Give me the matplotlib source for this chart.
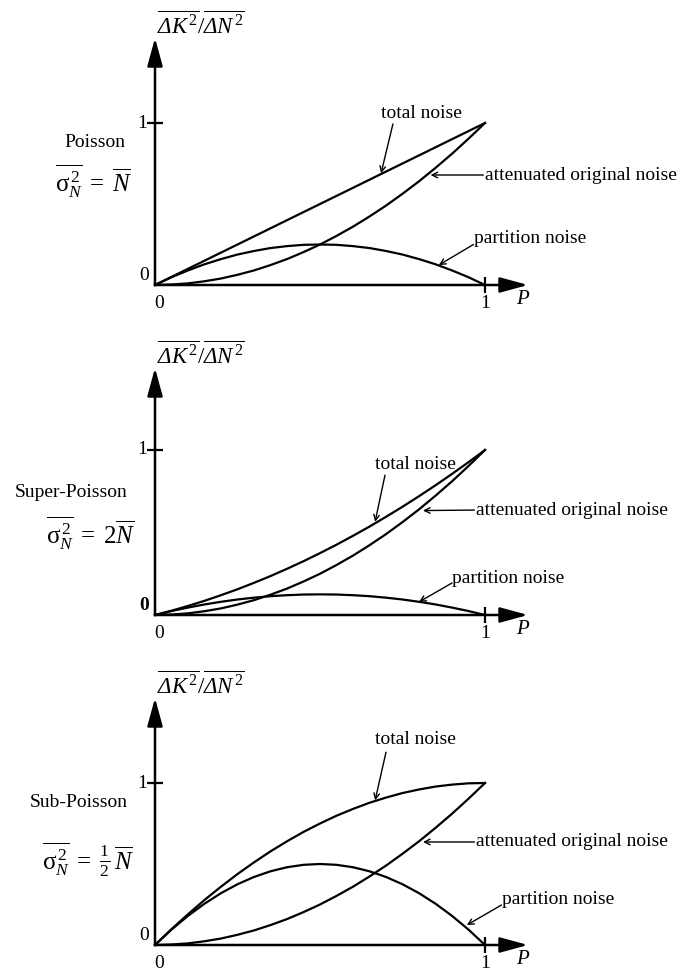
import matplotlib
matplotlib.use("Agg")
import matplotlib.pyplot as plt

plt.rcParams['font.family'] = ['Liberation Serif', 'DejaVu Serif']
plt.rcParams['mathtext.fontset'] = 'custom'
plt.rcParams['mathtext.rm'] = 'Liberation Serif'
plt.rcParams['mathtext.it'] = 'Liberation Serif:italic'
plt.rcParams['mathtext.bf'] = 'Liberation Serif:bold'
plt.rcParams['mathtext.sf'] = 'Liberation Serif:italic'

# transmission probability P
p = [0.0, 0.05, 0.10, 0.15, 0.20, 0.25, 0.30, 0.35, 0.40, 0.45, 0.50,
     0.55, 0.60, 0.65, 0.70, 0.75, 0.80, 0.85, 0.90, 0.95, 1.0]

# Poisson
poi_total = [0.0, 0.05, 0.10, 0.15, 0.20, 0.25, 0.30, 0.35, 0.40, 0.45, 0.50,
             0.55, 0.60, 0.65, 0.70, 0.75, 0.80, 0.85, 0.90, 0.95, 1.0]
poi_atten = [0.0, 0.003, 0.01, 0.023, 0.04, 0.063, 0.09, 0.123, 0.16, 0.203, 0.25,
             0.303, 0.36, 0.423, 0.49, 0.563, 0.64, 0.723, 0.81, 0.903, 1.0]
poi_part = [0.0, 0.048, 0.09, 0.128, 0.16, 0.188, 0.21, 0.228, 0.24, 0.248, 0.25,
            0.248, 0.24, 0.228, 0.21, 0.188, 0.16, 0.128, 0.09, 0.048, 0.0]

# Super-Poisson
sup_total = [0.0, 0.026, 0.055, 0.086, 0.12, 0.156, 0.195, 0.236, 0.28, 0.326, 0.375,
             0.426, 0.48, 0.536, 0.595, 0.656, 0.72, 0.786, 0.855, 0.926, 1.0]
sup_atten = [0.0, 0.003, 0.01, 0.023, 0.04, 0.063, 0.09, 0.123, 0.16, 0.203, 0.25,
             0.303, 0.36, 0.423, 0.49, 0.563, 0.64, 0.723, 0.81, 0.903, 1.0]
sup_part = [0.0, 0.024, 0.045, 0.064, 0.08, 0.094, 0.105, 0.114, 0.12, 0.124, 0.125,
            0.124, 0.12, 0.114, 0.105, 0.094, 0.08, 0.064, 0.045, 0.024, 0.0]

# Sub-Poisson
sub_total = [0.0, 0.098, 0.19, 0.278, 0.36, 0.438, 0.51, 0.578, 0.64, 0.698, 0.75,
             0.798, 0.84, 0.878, 0.91, 0.938, 0.96, 0.978, 0.99, 0.998, 1.0]
sub_atten = [0.0, 0.003, 0.01, 0.023, 0.04, 0.063, 0.09, 0.123, 0.16, 0.203, 0.25,
             0.303, 0.36, 0.423, 0.49, 0.563, 0.64, 0.723, 0.81, 0.903, 1.0]
sub_part = [0.0, 0.095, 0.18, 0.255, 0.32, 0.375, 0.42, 0.455, 0.48, 0.495, 0.5,
            0.495, 0.48, 0.455, 0.42, 0.375, 0.32, 0.255, 0.18, 0.095, 0.0]

names = ['Poisson', 'Super-Poisson', 'Sub-Poisson']
formulas = [r'$\overline{\mathrm{\sigma}_N^{\,2}}\;=\;\overline{N}$',
            r'$\overline{\mathrm{\sigma}_N^{\,2}}\;=\;\mathit{2}\overline{N}$',
            r'$\overline{\mathrm{\sigma}_N^{\,2}}\;=\;\frac{\mathit{1}}{\mathit{2}}\,\overline{N}$']
totals = [poi_total, sup_total, sub_total]
attens = [poi_atten, sup_atten, sub_atten]
parts = [poi_part, sup_part, sub_part]

W, H = 685, 976
fig = plt.figure(figsize=(W / 100, H / 100), dpi=100)

# layout per panel (pixels): origin row, pixels per unit on y
origins = [285, 615, 945]
yunits = [162, 165, 162]
xunit = 330
x0px = 155

# label placement in data units
name_pos = [(-0.182, 0.877), (-0.255, 0.745), (-0.23, 0.877)]
form_pos = [(-0.185, 0.642), (-0.194, 0.497), (-0.203, 0.525)]
tot_txt = [(0.806, 1.06), (0.788, 0.915), (0.788, 1.27)]
tot_tail = [(0.721, 0.994), (0.697, 0.848), (0.70, 1.19)]
tot_head = [(0.685, 0.69), (0.667, 0.565), (0.667, 0.893)]
att_txt = [(1.0, 0.679), (0.973, 0.636), (0.973, 0.636)]
att_head = [(0.835, 0.679), (0.812, 0.633), (0.812, 0.636)]
par_txt = [(0.967, 0.284), (0.90, 0.224), (1.052, 0.278)]
par_tail = [(0.965, 0.25), (0.90, 0.194), (1.05, 0.247)]
par_head = [(0.86, 0.123), (0.80, 0.079), (0.945, 0.123)]

fs = 14
for k in range(3):
    oy = origins[k]
    u = yunits[k]
    top = oy - 290
    bot = min(oy + 31, H)
    ax = fig.add_axes([0, 1 - bot / H, 1, (bot - top) / H])
    ax.set_xlim(-x0px / xunit, (W - x0px) / xunit)
    ax.set_ylim(-(bot - oy) / u, (oy - top) / u)
    ax.patch.set_visible(False)

    for s in ['top', 'right']:
        ax.spines[s].set_visible(False)
    for s in ['left', 'bottom']:
        ax.spines[s].set_position(('data', 0))
        ax.spines[s].set_color('none')
    ax.set_xticks([1])
    ax.set_yticks([1])
    ax.set_xticklabels([])
    ax.set_yticklabels([])
    ax.tick_params(direction='inout', length=11, width=1.6, color='black')

    xtip = (528 - x0px) / xunit
    ytip = 247 / u
    arr = dict(arrowstyle='-|>,head_length=0.95,head_width=0.26', color='black',
               lw=1.8, mutation_scale=18, shrinkA=0, shrinkB=0)
    ax.annotate('', xy=(xtip, 0), xytext=(0, 0), arrowprops=arr)
    ax.annotate('', xy=(0, ytip), xytext=(0, 0), arrowprops=arr)

    ax.plot(p, totals[k], color='black', lw=1.6)
    ax.plot(p, attens[k], color='black', lw=1.6)
    ax.plot(p, parts[k], color='black', lw=1.6)

    ax.text(0.005, 260 / u, r'$\overline{\mathsf{\Delta K}^{\,2}}/\overline{\mathsf{\Delta N}^{\,2}}$',
            fontsize=16.5, ha='left', va='center')
    ax.text(name_pos[k][0], name_pos[k][1], names[k], fontsize=fs, ha='center', va='center')
    ax.text(form_pos[k][0], form_pos[k][1], formulas[k], fontsize=18, ha='center', va='center')

    ax.text(-0.033, 0.056, '0', fontsize=fs, ha='center', va='center',
            fontweight='bold' if k == 1 else 'normal')
    ax.text(-0.039, 1.0, '1', fontsize=fs, ha='center', va='center')
    ax.text(0.012, -18 / u, '0', fontsize=fs, ha='center', va='center')
    ax.text(1.0, -18 / u, '1', fontsize=fs, ha='center', va='center')
    ax.text(1.115, -15 / u, 'P', fontsize=15, style='italic', ha='center', va='center')

    thin = dict(arrowstyle='->', color='black', lw=1.0, shrinkA=0, shrinkB=0)
    ax.text(tot_txt[k][0], tot_txt[k][1], 'total noise', fontsize=fs, ha='center', va='center')
    ax.annotate('', xy=tot_head[k], xytext=tot_tail[k], arrowprops=thin)
    ax.text(att_txt[k][0], att_txt[k][1], 'attenuated original noise', fontsize=fs,
            ha='left', va='center')
    ax.annotate('', xy=att_head[k], xytext=(att_txt[k][0] - 0.005, att_txt[k][1]),
                arrowprops=thin)
    ax.text(par_txt[k][0], par_txt[k][1], 'partition noise', fontsize=fs, ha='left', va='center')
    ax.annotate('', xy=par_head[k], xytext=par_tail[k], arrowprops=thin)

fig.savefig('out.png', dpi=100)
